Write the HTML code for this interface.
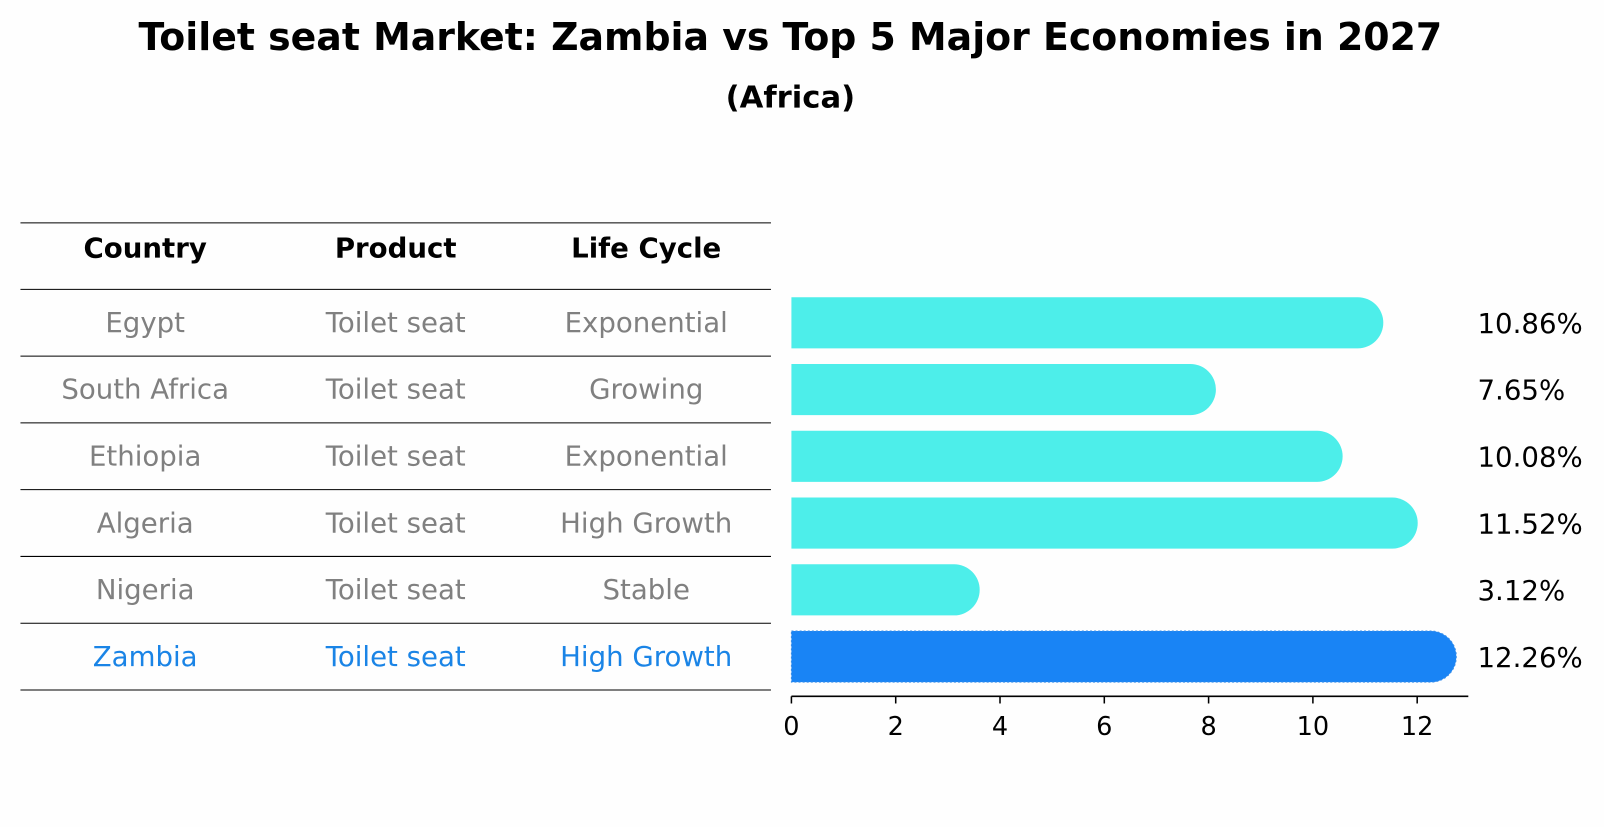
<!DOCTYPE html>
<html><head><meta charset="utf-8">
<style>
body{margin:0;background:#fefefe;font-family:"DejaVu Sans","Liberation Sans",sans-serif;}
svg text{font-family:"DejaVu Sans","Liberation Sans",sans-serif;}
</style></head>
<body>
<svg id="chart" width="1604" height="823" xmlns="http://www.w3.org/2000/svg">
<rect width="1604" height="823" fill="#fefefe"/>
<g transform="scale(1.0225)">
<text x="773" y="49" text-anchor="middle" font-size="37" font-weight="bold">Toilet seat Market: Zambia vs Top 5 Major Economies in 2027</text>
<text x="773" y="105" text-anchor="middle" font-size="30" font-weight="bold">(Africa)</text>
<g id="table"></g>
<g id="bars"></g>
<g id="axis"></g>
</g>
</svg>
<script>
const countries=["Egypt","South Africa","Ethiopia","Algeria","Nigeria","Zambia"];
const products=["Toilet seat","Toilet seat","Toilet seat","Toilet seat","Toilet seat","Toilet seat"];
const lifeCycles=["Exponential","Growing","Exponential","High Growth","Stable","High Growth"];
const values=[10.86,7.65,10.08,11.52,3.12,12.26];
const valueLabels=["10.86%","7.65%","10.08%","11.52%","3.12%","12.26%"];
const ticks=[0,2,4,6,8,10,12];

const NS="http://www.w3.org/2000/svg";
function mk(tag,attrs,parent){const e=document.createElementNS(NS,tag);for(const k in attrs)e.setAttribute(k,attrs[k]);parent.appendChild(e);return e;}
const x0=774, unit=51.0;
function xs(v){return x0+v*unit;}
const rowTop=283, rowH=65.3;
function rowY(i){return rowTop+i*rowH+rowH/2;}

const table=document.getElementById('table');
const hdr=["Country","Product","Life Cycle"], colX=[142,387,632];
for(let c=0;c<3;c++){
  const t=mk('text',{x:colX[c],y:252,'text-anchor':'middle','font-size':27,'font-weight':'bold'},table);
  t.textContent=hdr[c];
  
  
}
for(let i=0;i<=countries.length+1;i++){
  const y=i===0?218:rowTop+(i-1)*rowH;
  const l=mk('line',{x1:20,x2:754,y1:y,y2:y,stroke:'#000','stroke-width':1},table);
  
  
}
countries.forEach((c,i)=>{
  const col=c==="Zambia"?"#1a84e6":"#808080";
  [c,products[i],lifeCycles[i]].forEach((v,k)=>{
    const t=mk('text',{x:colX[k],y:rowY(i)+9,'text-anchor':'middle','font-size':27,fill:col},table);
    t.textContent=v;
    
    
  });
});

const bars=document.getElementById('bars');
const bh=50;
values.forEach((v,i)=>{
  const isZ=countries[i]==="Zambia";
  const col=isZ?"#1984f5":"#4deeea";
  const cy=rowY(i), xe=xs(v);
  const attrs={d:`M${x0},${cy-bh/2} H${xe} A${bh/2},${bh/2} 0 0 1 ${xe},${cy+bh/2} H${x0} Z`,fill:col};
  if(isZ){attrs.stroke='#3a8ee8';attrs['stroke-width']=1;attrs['stroke-dasharray']='2,2';}
  const p=mk('path',attrs,bars);
  
  
  const t=mk('text',{x:1445,y:cy+10,'font-size':27,fill:'#000'},bars);
  t.textContent=valueLabels[i];
  
  
});

const axis=document.getElementById('axis');
const ay=681;
const al=mk('line',{x1:x0,x2:1436,y1:ay,y2:ay,stroke:'#000','stroke-width':1.5},axis);


ticks.forEach(tv=>{
  const tl=mk('line',{x1:xs(tv),x2:xs(tv),y1:ay,y2:ay+7,stroke:'#000','stroke-width':1.5},axis);
  
  
  const t=mk('text',{x:xs(tv),y:ay+38,'text-anchor':'middle','font-size':25},axis);
  t.textContent=tv;
  
  
});
</script>
</body></html>
